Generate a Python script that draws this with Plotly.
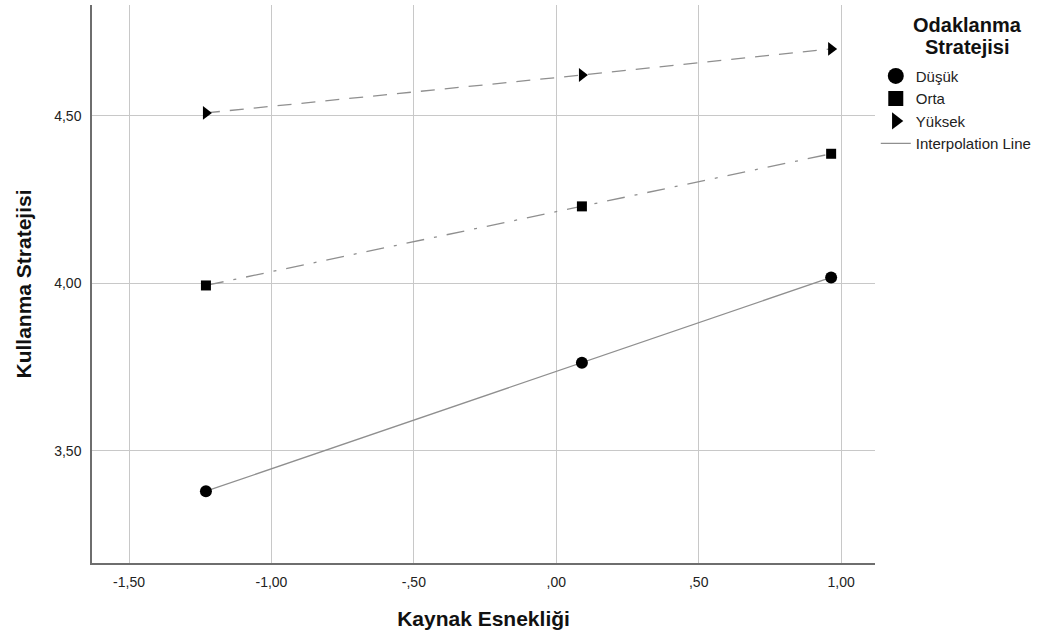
import plotly.graph_objects as go

x_vals = [-1.23, 0.09, 0.965]
dusuk = [3.38, 3.763, 4.018]
orta = [3.994, 4.23, 4.387]
yuksek = [4.509, 4.622, 4.70]

series_names = ["Düşük", "Orta", "Yüksek"]
x_ticks = [-1.5, -1.0, -0.5, 0.0, 0.5, 1.0]
x_ticktext = ["-1,50", "-1,00", "-,50", ",00", ",50", "1,00"]
y_ticks = [3.5, 4.0, 4.5]
y_ticktext = ["3,50", "4,00", "4,50"]
legend_title_lines = ["Odaklanma", "Stratejisi"]

FONT = "Liberation Sans, Arial, sans-serif"
LINE_C = "#8f8f8f"

fig = go.Figure()
styles = [
    (dusuk, "solid", "circle", 12, 17),
    (orta, "18px,10px,3px,10px", "square", 10, 15),
    (yuksek, "14px,10px", "triangle-right", 12, 15),
]
for name, (vals, dash, sym, msize, lsize) in zip(series_names, styles):
    fig.add_trace(go.Scatter(x=x_vals, y=vals, name=name, mode="lines+markers",
                             showlegend=False,
                             line=dict(color=LINE_C, width=1.3, dash=dash),
                             marker=dict(symbol=sym, size=msize, color="black")))
for name, (vals, dash, sym, msize, lsize) in zip(series_names, styles):
    fig.add_trace(go.Scatter(x=[None], y=[None], name=name, mode="markers",
                             marker=dict(symbol=sym, size=lsize, color="black")))
fig.add_trace(go.Scatter(x=[None], y=[None], name="Interpolation Line", mode="lines",
                         line=dict(color=LINE_C, width=1.3)))

fig.update_layout(
    width=1062, height=637,
    margin=dict(l=92, r=187, t=5, b=74),
    paper_bgcolor="white", plot_bgcolor="white",
    font=dict(family=FONT, size=12, color="#222"),
    showlegend=True,
    legend=dict(x=1.001, y=0.902, xanchor="left", yanchor="top",
                font=dict(family=FONT, size=15, color="#222"),
                tracegroupgap=0, itemwidth=30, bgcolor="rgba(0,0,0,0)"),
    xaxis=dict(range=[-1.63, 1.119], tickvals=x_ticks, ticktext=x_ticktext,
               showgrid=True, gridcolor="#c8c8c8", gridwidth=1, zeroline=False,
               showline=True, linecolor="#6e6e6e", linewidth=1.5, ticks="",
               ticklabelstandoff=5, automargin=False,
               tickfont=dict(family=FONT, size=14, color="#222"),
               title=dict(text="<b>Kaynak Esnekliği</b>", font=dict(family=FONT, size=21, color="#111"),
                          standoff=23)),
    yaxis=dict(range=[3.1657, 4.831], tickvals=y_ticks, ticktext=y_ticktext,
               showgrid=True, gridcolor="#c8c8c8", gridwidth=1, zeroline=False,
               showline=True, linecolor="#6e6e6e", linewidth=1.5, ticks="",
               ticklabelstandoff=6, automargin=False,
               tickfont=dict(family=FONT, size=14, color="#222"),
               title=dict(text="<b>Kullanma Stratejisi</b>", font=dict(family=FONT, size=21, color="#111"),
                          standoff=17)),
)

for line, ypx in zip(legend_title_lines, [25, 47]):
    fig.add_annotation(text="<b>" + line + "</b>", xref="paper", yref="paper",
                       x=(967 - 92) / 783, y=1.0 - (ypx - 5) / 558,
                       xanchor="center", yanchor="middle",
                       showarrow=False, align="center",
                       font=dict(family=FONT, size=20, color="#111"))

fig.write_html("out.html", config={"displayModeBar": False},
               post_script="document.body.style.margin='0';")
